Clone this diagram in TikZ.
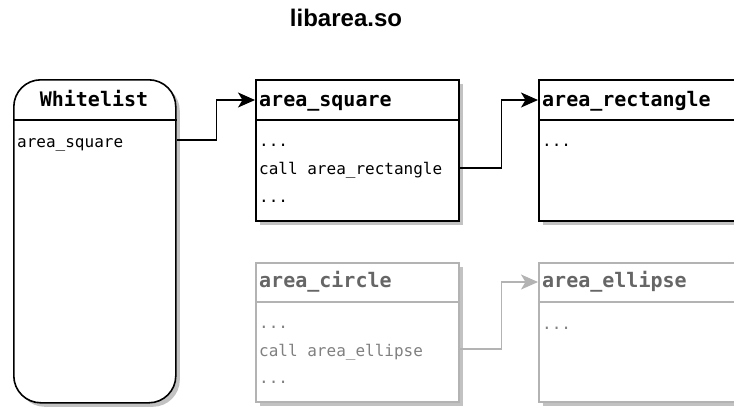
\documentclass[tikz,border=0pt]{standalone}
\usepackage{fontspec}
\setmonofont{DejaVu Sans Mono}
\newfontfamily\titlefont{Liberation Sans}
\usetikzlibrary{arrows.meta,shadows}
\definecolor{lgray}{HTML}{B3B3B3}
\definecolor{hgray}{HTML}{666666}
\definecolor{bgray}{HTML}{808080}
\definecolor{shd}{HTML}{C2C2C2}
\begin{document}
\begin{tikzpicture}[x=1pt,y=-1pt,
  box/.style={draw=black, line width=1.6pt, fill=white, anchor=north west, inner sep=0pt,
    drop shadow={shadow xshift=4pt, shadow yshift=-4pt, fill=shd, opacity=1}},
  gbox/.style={box, draw=lgray},
  sepline/.style={line width=1.5pt, draw=black},
  gsepline/.style={sepline, draw=lgray},
  hdr/.style={font=\fontsize{20}{24}\selectfont\ttfamily\bfseries, anchor=base west, inner sep=0pt},
  ghdr/.style={hdr, text=hgray},
  txt/.style={font=\fontsize{16}{19}\selectfont\ttfamily, anchor=base west, inner sep=0pt},
  gtxt/.style={txt, text=bgray},
  arr/.style={line width=1.6pt, draw=black, -{Stealth[length=17pt,width=15pt,inset=4.5pt]}},
  garr/.style={arr, draw=lgray, -{Stealth[length=17pt,width=15pt,inset=4.5pt,fill=lgray]}}
]
\useasboundingbox (0,0) rectangle (734,408);
\clip (0,0) rectangle (734,408);

\node[font=\titlefont\bfseries\fontsize{24}{28}\selectfont, anchor=base, inner sep=0pt] (title) at (346,26) {libarea.so};

% Whitelist
\node[box, rounded corners=27pt, minimum width=162pt, minimum height=323pt] (wl) at (13,79) {};
\draw[sepline] ([yshift=-41pt]wl.north west) -- ([yshift=-41pt]wl.north east);
\node[hdr, anchor=base] (wlh) at (94,106) {Whitelist};
\node[txt] (wl1) at (17,147) {area\_square};

% area_square
\node[box, minimum width=203pt, minimum height=141pt] (sq) at (255,79) {};
\draw[sepline] ([yshift=-41pt]sq.north west) -- ([yshift=-41pt]sq.north east);
\node[hdr] (sqh) at (259,106) {area\_square};
\node[txt] (sq1) at (259,146) {...};
\node[txt] (sq2) at (259,174) {call area\_rectangle};
\node[txt] (sq3) at (259,202) {...};

% area_rectangle
\node[box, minimum width=230pt, minimum height=141pt] (rc) at (538,79) {};
\draw[sepline] ([yshift=-41pt]rc.north west) -- ([yshift=-41pt]rc.north east);
\node[hdr] (rch) at (542,106) {area\_rectangle};
\node[txt] (rc1) at (542,146) {...};

% area_circle
\node[gbox, minimum width=203pt, minimum height=139pt] (ci) at (255,262) {};
\draw[gsepline] ([yshift=-40pt]ci.north west) -- ([yshift=-40pt]ci.north east);
\node[ghdr] (cih) at (259,287) {area\_circle};
\node[gtxt] (ci1) at (259,328) {...};
\node[gtxt] (ci2) at (259,356) {call area\_ellipse};
\node[gtxt] (ci3) at (259,383) {...};

% area_ellipse
\node[gbox, minimum width=230pt, minimum height=139pt] (el) at (538,262) {};
\draw[gsepline] ([yshift=-40pt]el.north west) -- ([yshift=-40pt]el.north east);
\node[ghdr] (elh) at (542,287) {area\_ellipse};
\node[gtxt] (el1) at (542,329) {...};

% connectors
\draw[arr] ([yshift=-61pt]wl.north east) -- ++(40,0) |- ([yshift=-21pt]sq.north west);
\draw[arr] ([yshift=-89pt]sq.north east) -- ++(42,0) |- ([yshift=-21pt]rc.north west);
\draw[garr] ([yshift=-87pt]ci.north east) -- ++(42,0) |- ([yshift=-20pt]el.north west);
\end{tikzpicture}
\end{document}
